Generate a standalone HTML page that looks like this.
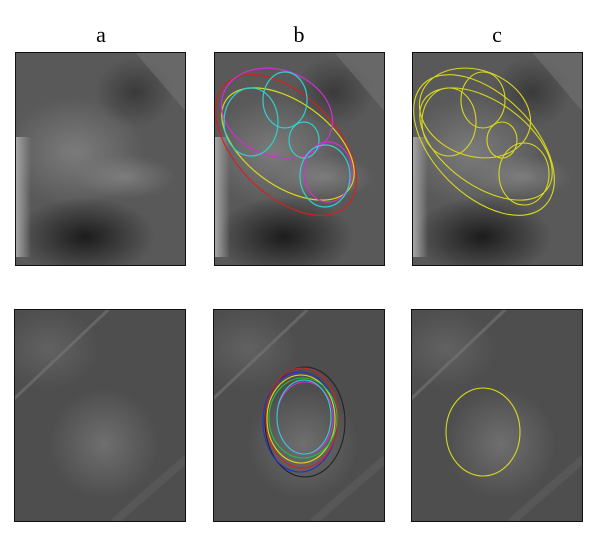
<!DOCTYPE html>
<html><head><meta charset="utf-8"><style>
html,body{margin:0;padding:0;background:#fff;width:600px;height:539px;overflow:hidden}
svg{display:block}
text{font-family:"Liberation Serif",serif;font-size:22px;fill:#000}
</style></head><body>
<svg width="600" height="539" viewBox="0 0 600 539">
<defs>
<clipPath id="clipT"><rect width="171" height="214"/></clipPath>
<clipPath id="clipB"><rect width="172" height="213"/></clipPath>
<radialGradient id="blobT" cx="0.5" cy="0.5" r="0.5"><stop offset="0" stop-color="#8a8a8a" stop-opacity="0.7"/><stop offset="1" stop-color="#8a8a8a" stop-opacity="0"/></radialGradient>
<radialGradient id="darkT" cx="0.5" cy="0.5" r="0.5"><stop offset="0" stop-color="#151515" stop-opacity="0.9"/><stop offset="1" stop-color="#151515" stop-opacity="0"/></radialGradient>
<radialGradient id="blobB" cx="0.5" cy="0.5" r="0.5"><stop offset="0" stop-color="#777" stop-opacity="0.8"/><stop offset="1" stop-color="#777" stop-opacity="0"/></radialGradient>
<linearGradient id="leftT" x1="0" x2="1"><stop offset="0" stop-color="#aaa"/><stop offset="1" stop-color="#aaa" stop-opacity="0"/></linearGradient>
<g id="topbg">
<g clip-path="url(#clipT)">
<rect width="171" height="214" fill="#595959"/>
<ellipse cx="60" cy="100" rx="70" ry="55" fill="url(#blobT)"/>
<ellipse cx="110" cy="125" rx="50" ry="22" fill="url(#blobT)"/>
<ellipse cx="70" cy="185" rx="70" ry="40" fill="url(#darkT)"/>
<ellipse cx="120" cy="40" rx="40" ry="35" fill="url(#darkT)" opacity="0.5"/>
<path d="M120 0 L171 0 L171 60 Z" fill="#777" opacity="0.5"/>
<rect x="0" y="85" width="16" height="120" fill="url(#leftT)"/>
</g>
<rect x="0.5" y="0.5" width="170" height="213" fill="none" stroke="#111" stroke-width="1"/>
</g>
<g id="botbg">
<g clip-path="url(#clipB)">
<rect width="172" height="213" fill="#4e4e4e"/>
<ellipse cx="90" cy="135" rx="55" ry="55" fill="url(#blobB)"/>
<ellipse cx="35" cy="40" rx="50" ry="40" fill="url(#blobB)" opacity="0.6"/>
<line x1="0" y1="90" x2="95" y2="0" stroke="#777" stroke-width="3" opacity="0.6"/>
<line x1="100" y1="213" x2="172" y2="150" stroke="#666" stroke-width="8" opacity="0.4"/>
</g>
<rect x="0.5" y="0.5" width="171" height="212" fill="none" stroke="#111" stroke-width="1"/>
</g>
</defs>

<text x="101" y="42" text-anchor="middle">a</text>
<text x="299" y="42" text-anchor="middle">b</text>
<text x="497" y="42" text-anchor="middle">c</text>

<use href="#topbg" x="15" y="52"/>
<use href="#topbg" x="214" y="52"/>
<use href="#topbg" x="412" y="52"/>
<use href="#botbg" x="14" y="309"/>
<use href="#botbg" x="213" y="309"/>
<use href="#botbg" x="411" y="309"/>

<g fill="none" stroke-width="1.2">
<ellipse cx="286" cy="145" rx="86" ry="50" transform="rotate(45 286 145)" stroke="#d42020"/>
<ellipse cx="288" cy="144" rx="76" ry="42" transform="rotate(36 288 144)" stroke="#d8d820"/>
<ellipse cx="277" cy="113" rx="57" ry="43" transform="rotate(20 277 113)" stroke="#d030d0"/>
<ellipse cx="251" cy="122" rx="27" ry="34" stroke="#30d0d0"/>
<ellipse cx="285" cy="100" rx="22" ry="28" stroke="#30d0d0"/>
<ellipse cx="304" cy="140" rx="15" ry="18" stroke="#30d0d0"/>
<ellipse cx="328" cy="172" rx="24" ry="30" stroke="#d030d0"/>
<ellipse cx="325" cy="176" rx="25" ry="31" stroke="#30d0d0"/>
</g>
<g fill="none" stroke="#d8d820" stroke-width="1.1">
<ellipse cx="484" cy="145" rx="86" ry="50" transform="rotate(45 484 145)"/>
<ellipse cx="486" cy="144" rx="76" ry="42" transform="rotate(36 486 144)"/>
<ellipse cx="475" cy="113" rx="57" ry="43" transform="rotate(20 475 113)"/>
<ellipse cx="449" cy="122" rx="27" ry="34"/>
<ellipse cx="483" cy="100" rx="22" ry="28"/>
<ellipse cx="502" cy="140" rx="15" ry="18"/>
<ellipse cx="524" cy="174" rx="25" ry="31"/>
</g>
<g fill="none" stroke-width="1.1">
<ellipse cx="305" cy="422" rx="40" ry="55" stroke="#222"/>
<ellipse cx="300" cy="422" rx="37" ry="50" stroke="#2030d0"/>
<ellipse cx="302" cy="418" rx="36" ry="50" stroke="#d42020"/>
<ellipse cx="301" cy="419" rx="34" ry="44" stroke="#d8d820"/>
<ellipse cx="303" cy="418" rx="34" ry="40" stroke="#20c040"/>
<ellipse cx="305" cy="418" rx="28" ry="36" stroke="#d030d0"/>
<ellipse cx="304" cy="417" rx="27" ry="37" stroke="#30d0d0"/>
</g>
<ellipse cx="483" cy="432" rx="37" ry="44" fill="none" stroke="#d8d820" stroke-width="1.1"/>
</svg>
</body></html>
